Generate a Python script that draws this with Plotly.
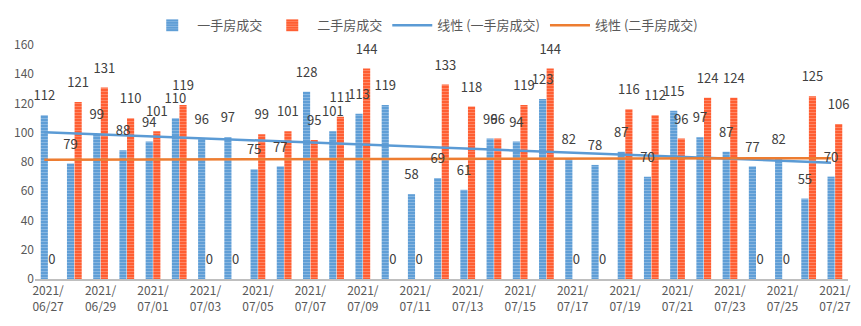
import numpy as np
import plotly.graph_objects as go

dates = ["2021/06/27","2021/06/28","2021/06/29","2021/06/30","2021/07/01","2021/07/02","2021/07/03",
         "2021/07/04","2021/07/05","2021/07/06","2021/07/07","2021/07/08","2021/07/09","2021/07/10",
         "2021/07/11","2021/07/12","2021/07/13","2021/07/14","2021/07/15","2021/07/16","2021/07/17",
         "2021/07/18","2021/07/19","2021/07/20","2021/07/21","2021/07/22","2021/07/23","2021/07/24",
         "2021/07/25","2021/07/26","2021/07/27"]
new_home = [112, 79, 99, 88, 94, 110, 96, 97, 75, 77, 128, 101, 113, 119, 58, 69, 61, 96, 94, 123,
            82, 78, 87, 70, 115, 97, 87, 77, 82, 55, 70]
second_home = [0, 121, 131, 110, 101, 119, 0, 0, 99, 101, 95, 111, 144, 0, 0, 133, 118, 96, 119, 144,
               0, 0, 116, 112, 96, 124, 124, 0, 0, 125, 106]
y_ticks = [0, 20, 40, 60, 80, 100, 120, 140, 160]

cats = [d[:5] + "<br>" + d[5:] for d in dates]
idx = np.arange(1, len(dates) + 1)
fit1 = np.polyval(np.polyfit(idx, new_home, 1), idx)
fit2 = np.polyval(np.polyfit(idx, second_home, 1), idx)

BLUE = "#5B9BD5"
ORANGE = "#FF5A2C"
TEXT = "#404040"
GAP = 0.42

fig = go.Figure()
fig.add_bar(x=cats, y=new_home, name="一手房成交", offsetgroup="a",
            marker=dict(color=BLUE, line=dict(width=0),
                        pattern=dict(shape="-", fgcolor="#B4D2EE", size=3, solidity=0.4, fillmode="overlay")))
fig.add_bar(x=cats, y=second_home, name="二手房成交", offsetgroup="b",
            marker=dict(color=ORANGE, line=dict(width=0),
                        pattern=dict(shape="-", fgcolor="#FFB29C", size=3, solidity=0.4, fillmode="overlay")))
fig.add_scatter(x=cats, y=fit1, mode="lines", name="线性 (一手房成交)",
                line=dict(color=BLUE, width=2.5))
fig.add_scatter(x=cats, y=fit2, mode="lines", name="线性 (二手房成交)",
                line=dict(color="#ED7D31", width=2.5))
# data labels, grouped to sit above their bars
for vals, grp in ((new_home, "a"), (second_home, "b")):
    fig.add_scatter(x=cats, y=vals, mode="markers+text", offsetgroup=grp,
                    text=[str(v) for v in vals], textposition="top center",
                    textfont=dict(size=13, color=TEXT),
                    marker=dict(size=17, opacity=0), showlegend=False,
                    hoverinfo="skip", cliponaxis=False)

fig.update_layout(
    width=861, height=326,
    margin=dict(l=35, r=10, t=45, b=47),
    plot_bgcolor="white", paper_bgcolor="white",
    font=dict(family="Noto Sans CJK SC, Noto Sans, sans-serif", size=12, color="#595959"),
    barmode="group", bargap=GAP, bargroupgap=0.06,
    scattermode="group", scattergap=GAP,
    legend=dict(orientation="h", x=0.48, xanchor="center", y=1.02, yanchor="bottom",
                bgcolor="rgba(0,0,0,0)",
                font=dict(size=13, color="#595959"), itemwidth=40, traceorder="normal"),
    showlegend=True,
)
fig.update_xaxes(
    type="category", showgrid=False, showline=True, linecolor="#BFBFBF", linewidth=2,
    tickmode="array", tickvals=cats[::2], ticktext=cats[::2], ticks="",
    tickfont=dict(size=12, color="#595959"), tickangle=0,
)
fig.update_yaxes(
    range=[0, 160], tickvals=y_ticks, showgrid=False, zeroline=False, showline=False,
    tickfont=dict(size=12, color="#595959"), ticks="",
)

fig.write_html("out.html")
